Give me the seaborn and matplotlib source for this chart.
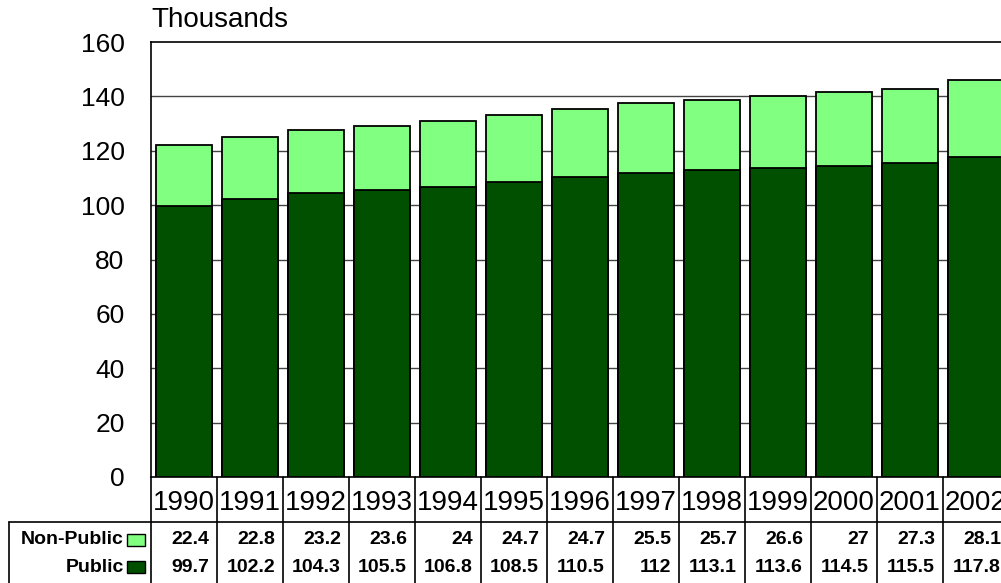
import matplotlib
matplotlib.use("Agg")
import matplotlib.pyplot as plt
import seaborn as sns
import pandas as pd
from matplotlib.patches import Rectangle
from matplotlib.lines import Line2D

years = ["1990", "1991", "1992", "1993", "1994", "1995", "1996",
         "1997", "1998", "1999", "2000", "2001", "2002"]
non_public = [22.4, 22.8, 23.2, 23.6, 24, 24.7, 24.7, 25.5, 25.7, 26.6, 27, 27.3, 28.1]
public = [99.7, 102.2, 104.3, 105.5, 106.8, 108.5, 110.5, 112, 113.1, 113.6, 114.5, 115.5, 117.8]
yticks = [0, 20, 40, 60, 80, 100, 120, 140, 160]

LIGHT = "#80FF80"
DARK = "#005000"

df = pd.DataFrame({"year": years, "Non-Public": non_public, "Public": public})
df["total"] = df["Non-Public"] + df["Public"]

sns.set_theme(style="white")
plt.rcParams["font.family"] = ["Liberation Sans", "DejaVu Sans"]
plt.rcParams["text.color"] = "black"
plt.rcParams["ytick.color"] = "black"

W, H = 1001, 583
fig = plt.figure(figsize=(W / 100, H / 100), dpi=100)
n = len(years)
pitch = 66
ax_left, ax_right = 151, 151 + pitch * n
ax_top, ax_bot = 42, 477
ax = fig.add_axes([ax_left / W, (H - ax_bot) / H, (ax_right - ax_left) / W, (ax_bot - ax_top) / H])

sns.barplot(data=df, x="year", y="total", color=LIGHT, saturation=1, width=0.86,
            edgecolor="black", linewidth=1.3, ax=ax, zorder=3)
sns.barplot(data=df, x="year", y="Public", color=DARK, saturation=1, width=0.86,
            edgecolor="black", linewidth=1.3, ax=ax, zorder=4)

ax.set_xlim(-0.5, n - 0.5)
ax.set_ylim(0, 160)
ax.set_yticks(yticks)
ax.set_yticklabels([str(v) for v in yticks], fontsize=19, color="black")
ax.tick_params(axis="y", length=0, pad=19)
ax.set_xticks([])
ax.set_xlabel("")
ax.set_ylabel("")
for v in yticks[1:-1]:
    ax.axhline(v, color="#444444", lw=1.0, zorder=1)
for s in ["top", "left", "bottom"]:
    ax.spines[s].set_visible(True)
    ax.spines[s].set_color("black")
    ax.spines[s].set_linewidth(1.2)
ax.spines["right"].set_visible(False)

fig.text(151 / W, (H - 20) / H, "Thousands", fontsize=20, ha="left", va="center")

def fx(x):
    return x / W

def fy(y):
    return (H - y) / H

line_kw = dict(color="black", lw=1.2, transform=fig.transFigure)
for i in range(n + 1):
    x = ax_left + pitch * i
    fig.add_artist(Line2D([fx(x), fx(x)], [fy(ax_bot), fy(H + 5)], **line_kw))
fig.add_artist(Line2D([fx(9), fx(ax_right)], [fy(522), fy(522)], **line_kw))
fig.add_artist(Line2D([fx(9), fx(9)], [fy(522), fy(H + 5)], **line_kw))

for i, yr in enumerate(years):
    cx = ax_left + pitch * i + pitch / 2
    fig.text(fx(cx), fy(503), yr, fontsize=20, ha="center", va="center")
    right = ax_left + pitch * (i + 1) - 8
    fig.text(fx(right), fy(540), f"{non_public[i]:g}", fontsize=14, fontweight="bold",
             ha="right", va="center")
    fig.text(fx(right), fy(567), f"{public[i]:g}", fontsize=14, fontweight="bold",
             ha="right", va="center")

fig.text(fx(124), fy(540), "Non-Public", fontsize=14, fontweight="bold", ha="right", va="center")
fig.text(fx(124), fy(567), "Public", fontsize=14, fontweight="bold", ha="right", va="center")
for yc, col in [(540, LIGHT), (567, DARK)]:
    fig.add_artist(Rectangle((fx(127), fy(yc + 6)), fx(18), 12 / H, facecolor=col,
                             edgecolor="black", lw=1.0, transform=fig.transFigure))

fig.savefig("out.png", dpi=100)
